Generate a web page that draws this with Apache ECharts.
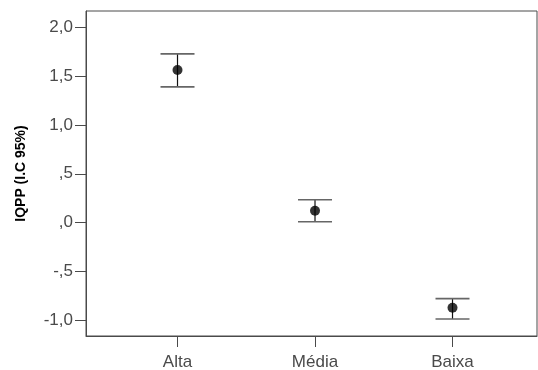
<!DOCTYPE html>
<html>
<head>
<meta charset="utf-8">
<script src="https://cdn.jsdelivr.net/npm/echarts@6/dist/echarts.min.js"></script>
<style>
html,body{margin:0;padding:0;background:#fff;}
#chart{width:538px;height:370px;}
</style>
</head>
<body>
<div id="chart"></div>
<script>
// Data
const categories = ["Alta", "Média", "Baixa"];
const means = [1.563, 0.122, -0.870];
const lower = [1.390, 0.009, -0.986];
const upper = [1.727, 0.234, -0.778];
const yTicks = [-1.0, -0.5, 0.0, 0.5, 1.0, 1.5, 2.0];
const yTitle = "IQPP (I.C 95%)";

function fmtY(v) {
  let s = Math.abs(v).toFixed(1).replace('.', ',');
  if (Math.abs(v) < 1) s = s.replace(/^0/, '');
  return (v < 0 ? '-' : '') + s;
}

const xPos = categories.map((c, i) => i + 1);
const meanData = means.map((m, i) => [xPos[i], m]);
const errData = means.map((m, i) => [xPos[i], lower[i], upper[i]]);

const chart = echarts.init(document.getElementById('chart'), null, {renderer: 'canvas'});
const axisColor = '#4a4a4a';
const labelFont = {fontFamily: 'Liberation Sans, Arial, sans-serif', fontSize: 17, color: '#4a4a4a'};

chart.setOption({
  animation: false,
  backgroundColor: '#fff',
  grid: {left: 86, right: 1, top: 11, bottom: 34, show: true, borderColor: axisColor, borderWidth: 1, outerBoundsMode: 'none'},
  xAxis: {
    type: 'value', min: 0.3345, max: 3.6145,
    splitLine: {show: false},
    axisLine: {show: true, onZero: false, lineStyle: {color: axisColor, width: 1}},
    axisTick: {show: true, length: 11, customValues: xPos, lineStyle: {color: axisColor}},
    axisLabel: Object.assign({
      customValues: xPos, margin: 18,
      formatter: v => categories[Math.round(v) - 1] || ''
    }, labelFont)
  },
  yAxis: {
    type: 'value', min: -1.16, max: 2.166,
    splitLine: {show: false},
    axisLine: {show: true, onZero: false, lineStyle: {color: axisColor, width: 1}},
    axisTick: {show: true, length: 11, customValues: yTicks, lineStyle: {color: axisColor}},
    axisLabel: Object.assign({customValues: yTicks, margin: 13, formatter: fmtY}, labelFont),
    name: yTitle, nameLocation: 'middle', nameRotate: 90, nameGap: 58,
    nameTextStyle: {fontFamily: 'Liberation Sans, Arial, sans-serif', fontSize: 14, fontWeight: 'bold', color: '#000'}
  },
  series: [
    {
      type: 'custom',
      data: errData,
      renderItem: function (params, api) {
        const x = api.value(0);
        const lo = api.coord([x, api.value(1)]);
        const hi = api.coord([x, api.value(2)]);
        const hw = 17;
        return {
          type: 'group',
          children: [
            {type: 'line', shape: {x1: lo[0], y1: lo[1], x2: hi[0], y2: hi[1]}, style: {stroke: '#111', lineWidth: 1.2}},
            {type: 'line', shape: {x1: lo[0] - hw, y1: lo[1], x2: lo[0] + hw, y2: lo[1]}, style: {stroke: '#666', lineWidth: 1.6}},
            {type: 'line', shape: {x1: hi[0] - hw, y1: hi[1], x2: hi[0] + hw, y2: hi[1]}, style: {stroke: '#666', lineWidth: 1.6}}
          ]
        };
      },
      z: 2
    },
    {
      type: 'scatter',
      data: meanData,
      symbol: 'circle',
      symbolSize: 10,
      itemStyle: {color: '#000'},
      z: 3
    }
  ]
});
</script>
</body>
</html>
